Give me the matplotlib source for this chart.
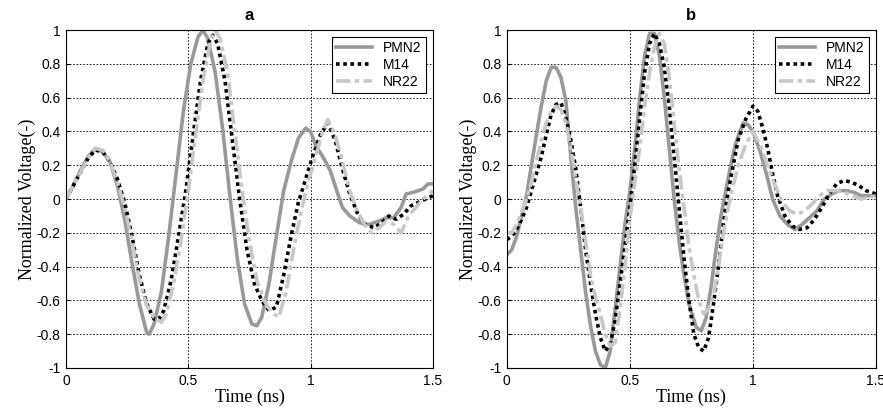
import matplotlib.pyplot as plt

# panel a
t_a_pmn2 = [0, 0.03, 0.06, 0.09, 0.12, 0.15, 0.18, 0.21, 0.24, 0.27, 0.30, 0.33, 0.34, 0.36, 0.39,
            0.42, 0.45, 0.48, 0.51, 0.54, 0.56, 0.58, 0.61, 0.64, 0.67, 0.70, 0.73, 0.76, 0.78,
            0.80, 0.83, 0.86, 0.89, 0.92, 0.95, 0.98, 1.00, 1.02, 1.05, 1.08, 1.10, 1.13, 1.16,
            1.20, 1.24, 1.28, 1.31, 1.34, 1.37, 1.39, 1.42, 1.46, 1.48, 1.50]
v_a_pmn2 = [0, 0.08, 0.17, 0.25, 0.30, 0.28, 0.22, 0.08, -0.12, -0.38, -0.62, -0.79, -0.80, -0.74,
            -0.55, -0.22, 0.15, 0.52, 0.80, 0.96, 1.0, 0.95, 0.75, 0.42, 0.02, -0.35, -0.62, -0.74,
            -0.75, -0.70, -0.50, -0.22, 0.05, 0.22, 0.36, 0.42, 0.40, 0.32, 0.25, 0.17, 0.08, -0.05,
            -0.10, -0.14, -0.15, -0.13, -0.11, -0.11, -0.05, 0.03, 0.04, 0.06, 0.09, 0.09]

t_a_m14 = [0, 0.03, 0.06, 0.09, 0.12, 0.15, 0.18, 0.21, 0.24, 0.27, 0.30, 0.33, 0.36, 0.38, 0.40,
           0.43, 0.46, 0.49, 0.52, 0.55, 0.58, 0.60, 0.62, 0.65, 0.68, 0.71, 0.74, 0.77, 0.80,
           0.83, 0.86, 0.89, 0.92, 0.95, 0.98, 1.01, 1.04, 1.07, 1.10, 1.13, 1.16, 1.19, 1.22,
           1.26, 1.29, 1.32, 1.35, 1.38, 1.41, 1.44, 1.47, 1.50]
v_a_m14 = [0, 0.08, 0.16, 0.24, 0.29, 0.28, 0.22, 0.12, -0.02, -0.22, -0.45, -0.62, -0.71, -0.71,
           -0.66, -0.48, -0.22, 0.05, 0.38, 0.70, 0.92, 0.97, 0.92, 0.70, 0.35, 0.0, -0.30, -0.50,
           -0.60, -0.66, -0.64, -0.45, -0.22, -0.02, 0.12, 0.26, 0.38, 0.45, 0.35, 0.18, 0.03,
           -0.08, -0.15, -0.17, -0.14, -0.10, -0.12, -0.09, -0.04, -0.02, 0.0, 0.02]

t_a_nr22 = [0, 0.03, 0.06, 0.09, 0.12, 0.15, 0.18, 0.21, 0.24, 0.27, 0.30, 0.33, 0.36, 0.39, 0.41,
            0.44, 0.47, 0.50, 0.53, 0.56, 0.59, 0.61, 0.63, 0.66, 0.69, 0.72, 0.75, 0.78, 0.81,
            0.84, 0.87, 0.90, 0.93, 0.96, 0.99, 1.02, 1.05, 1.07, 1.10, 1.13, 1.16, 1.19, 1.22,
            1.25, 1.28, 1.31, 1.34, 1.37, 1.40, 1.43, 1.46, 1.50]
v_a_nr22 = [0, 0.08, 0.16, 0.24, 0.30, 0.29, 0.22, 0.10, -0.05, -0.25, -0.48, -0.63, -0.70, -0.73,
            -0.68, -0.50, -0.25, 0.05, 0.38, 0.70, 0.93, 1.0, 0.95, 0.75, 0.40, 0.05, -0.25, -0.48,
            -0.60, -0.67, -0.70, -0.55, -0.30, -0.08, 0.10, 0.25, 0.40, 0.47, 0.38, 0.22, 0.05,
            -0.07, -0.15, -0.20, -0.17, -0.13, -0.15, -0.20, -0.10, -0.05, 0.0, 0.05]

# panel b
t_b_pmn2 = [0, 0.02, 0.04, 0.06, 0.08, 0.10, 0.12, 0.14, 0.16, 0.18, 0.20, 0.22, 0.24, 0.26, 0.28,
            0.30, 0.32, 0.34, 0.36, 0.38, 0.40, 0.42, 0.44, 0.46, 0.48, 0.50, 0.52, 0.54, 0.56,
            0.58, 0.60, 0.62, 0.64, 0.66, 0.68, 0.70, 0.72, 0.74, 0.77, 0.79, 0.81, 0.83, 0.85,
            0.87, 0.89, 0.91, 0.93, 0.96, 0.98, 1.00, 1.03, 1.06, 1.08, 1.11, 1.14, 1.17, 1.20,
            1.23, 1.26, 1.29, 1.32, 1.35, 1.38, 1.41, 1.44, 1.47, 1.50]
v_b_pmn2 = [-0.33, -0.30, -0.22, -0.10, 0.02, 0.20, 0.38, 0.55, 0.70, 0.78, 0.78, 0.72, 0.58, 0.25,
            -0.05, -0.30, -0.55, -0.75, -0.90, -0.98, -1.0, -0.90, -0.65, -0.40, -0.15, 0.05, 0.30,
            0.60, 0.85, 0.98, 0.98, 0.85, 0.60, 0.30, 0.0, -0.25, -0.45, -0.62, -0.76, -0.78,
            -0.70, -0.52, -0.30, -0.10, 0.05, 0.20, 0.33, 0.45, 0.44, 0.40, 0.28, 0.12, 0.0,
            -0.10, -0.15, -0.18, -0.15, -0.11, -0.07, 0.0, 0.03, 0.05, 0.05, 0.04, 0.02, 0.02, 0.02]

t_b_m14 = [0, 0.02, 0.04, 0.06, 0.08, 0.10, 0.12, 0.14, 0.16, 0.18, 0.20, 0.22, 0.24, 0.26, 0.28,
           0.30, 0.32, 0.34, 0.36, 0.38, 0.40, 0.42, 0.44, 0.46, 0.48, 0.50, 0.52, 0.54, 0.56,
           0.58, 0.60, 0.62, 0.64, 0.66, 0.68, 0.70, 0.72, 0.74, 0.76, 0.78, 0.80, 0.82, 0.84,
           0.86, 0.88, 0.90, 0.92, 0.94, 0.97, 1.00, 1.02, 1.04, 1.06, 1.08, 1.10, 1.13, 1.16,
           1.19, 1.22, 1.25, 1.28, 1.31, 1.34, 1.37, 1.40, 1.43, 1.46, 1.50]
v_b_m14 = [-0.24, -0.22, -0.18, -0.12, -0.05, 0.05, 0.15, 0.25, 0.38, 0.50, 0.56, 0.57, 0.48, 0.35,
           0.18, -0.05, -0.30, -0.50, -0.68, -0.82, -0.90, -0.86, -0.72, -0.50, -0.28, -0.05,
           0.20, 0.48, 0.75, 0.92, 0.98, 0.92, 0.78, 0.55, 0.25, -0.05, -0.35, -0.60, -0.80,
           -0.88, -0.90, -0.82, -0.62, -0.40, -0.15, 0.05, 0.20, 0.35, 0.47, 0.55, 0.52, 0.42,
           0.30, 0.15, 0.02, -0.10, -0.16, -0.18, -0.17, -0.12, -0.05, 0.03, 0.09, 0.11, 0.10,
           0.08, 0.05, 0.03]

t_b_nr22 = [0, 0.02, 0.04, 0.06, 0.08, 0.10, 0.12, 0.14, 0.16, 0.18, 0.20, 0.22, 0.24, 0.26, 0.28,
            0.30, 0.32, 0.34, 0.36, 0.38, 0.40, 0.42, 0.44, 0.46, 0.48, 0.50, 0.52, 0.54, 0.56,
            0.58, 0.60, 0.62, 0.64, 0.66, 0.68, 0.70, 0.72, 0.74, 0.76, 0.78, 0.80, 0.82, 0.84,
            0.86, 0.88, 0.90, 0.92, 0.94, 0.97, 1.00, 1.03, 1.06, 1.09, 1.12, 1.15, 1.18, 1.21,
            1.24, 1.27, 1.30, 1.33, 1.36, 1.40, 1.44, 1.47, 1.50]
v_b_nr22 = [-0.20, -0.20, -0.15, -0.08, 0.0, 0.10, 0.22, 0.35, 0.45, 0.52, 0.55, 0.53, 0.45, 0.30,
            0.12, -0.05, -0.25, -0.45, -0.58, -0.68, -0.80, -0.87, -0.85, -0.65, -0.40, -0.12,
            0.10, 0.30, 0.55, 0.75, 0.90, 0.98, 0.92, 0.72, 0.45, 0.18, -0.05, -0.28, -0.45,
            -0.60, -0.68, -0.65, -0.58, -0.40, -0.20, -0.05, 0.08, 0.20, 0.32, 0.40, 0.32, 0.20,
            0.08, -0.02, -0.07, -0.09, -0.07, -0.03, 0.02, 0.05, 0.05, 0.05, 0.02, 0.0, 0.01, 0.02]

panels = [
    ("a", [(t_a_pmn2, v_a_pmn2), (t_a_m14, v_a_m14), (t_a_nr22, v_a_nr22)]),
    ("b", [(t_b_pmn2, v_b_pmn2), (t_b_m14, v_b_m14), (t_b_nr22, v_b_nr22)]),
]
names = ["PMN2", "M14", "NR22"]
styles = [
    dict(color="#999999", linestyle="-", linewidth=2.6),
    dict(color="black", linestyle=(0, (1, 1)), linewidth=2.6),
    dict(color="#c8c8c8", linestyle=(0, (4, 1.2, 1.2, 1.2)), linewidth=2.6),
]
xticks = [0, 0.5, 1, 1.5]
xticklabels = ["0", "0.5", "1", "1.5"]
yticks = [-1, -0.8, -0.6, -0.4, -0.2, 0, 0.2, 0.4, 0.6, 0.8, 1]
yticklabels = ["-1", "-0.8", "-0.6", "-0.4", "-0.2", "0", "0.2", "0.4", "0.6", "0.8", "1"]

fig = plt.figure(figsize=(8.83, 4.13), dpi=100)
rects = [[0.0747, 0.109, 0.4156, 0.818], [0.574, 0.109, 0.418, 0.818]]

for rect, (title, series) in zip(rects, panels):
    ax = fig.add_axes(rect)
    for (t, v), name, st in zip(series, names, styles):
        ax.plot(t, v, label=name, **st)
    ax.set_xlim(0, 1.5)
    ax.set_ylim(-1, 1)
    ax.set_xticks(xticks)
    ax.set_xticklabels(xticklabels, family="Liberation Sans", fontsize=10)
    ax.set_yticks(yticks)
    ax.set_yticklabels(yticklabels, family="Liberation Sans", fontsize=10)
    ax.tick_params(direction="in", length=3, width=0.8, pad=4)
    ax.grid(True, color="black", linestyle=(0, (2, 2)), linewidth=0.6)
    for s in ax.spines.values():
        s.set_linewidth(0.8)
    ax.set_title(title, family="Liberation Sans", fontweight="bold", fontsize=12, pad=7)
    ax.set_xlabel("Time (ns)", family="Liberation Serif", fontsize=13, labelpad=1)
    ax.set_ylabel("Normalized Voltage(-)", family="Liberation Serif", fontsize=13, labelpad=0)
    leg = ax.legend(loc="upper right", fancybox=False, framealpha=1, edgecolor="black",
                    prop={"family": "Liberation Sans", "size": 10}, handlelength=2.6,
                    borderpad=0.3, labelspacing=0.2, borderaxespad=0.5)
    leg.get_frame().set_linewidth(0.8)

fig.savefig("out.png", dpi=100)
